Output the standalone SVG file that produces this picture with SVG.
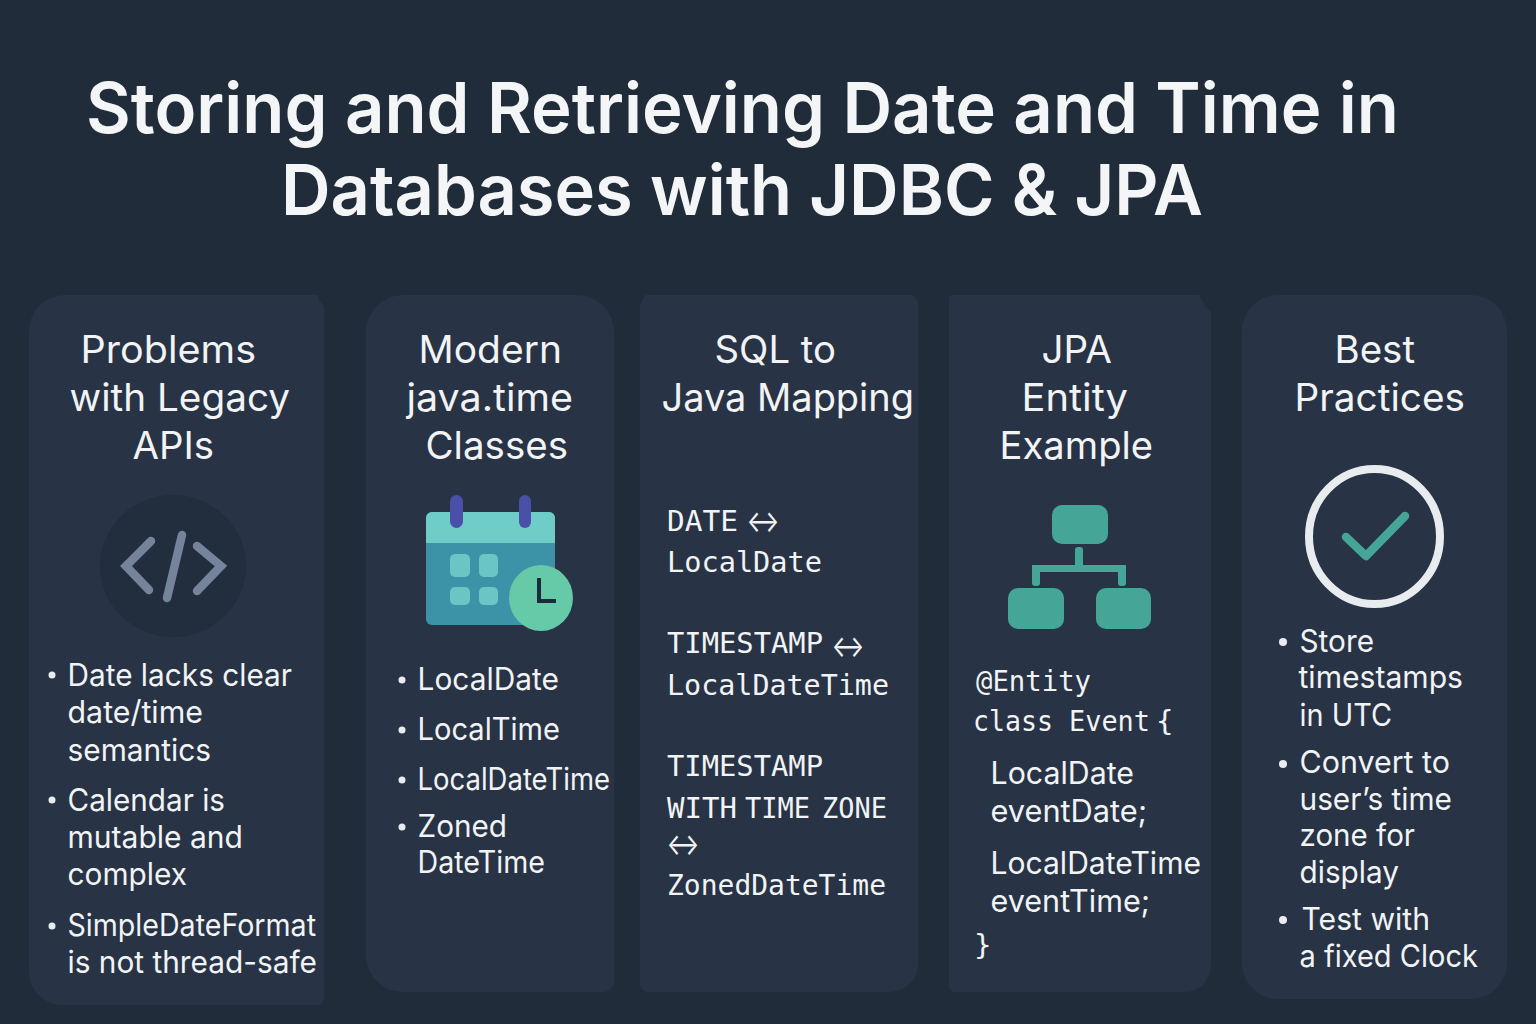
<svg xmlns="http://www.w3.org/2000/svg" width="1536" height="1024" viewBox="0 0 1536 1024">
<style>
text{font-family:Inter,"Liberation Sans",sans-serif;fill:#f1f3f5}
.t{font-size:70px;font-weight:600;fill:#f4f5f7}
.h{font-size:38px;font-weight:400;fill:#f1f3f5}
.b{font-size:31px}
.m{font-family:"DejaVu Sans Mono","Liberation Mono",monospace;font-size:29px}
.a{font-size:31px}
.card{fill:#283345}
.teal{fill:#45a698}
.d{fill:#e8ecef}
</style>
<rect width="1536" height="1024" fill="#212c3b"/>
<g id="title">
<text class="t" x="86" y="132.500" textLength="1313" lengthAdjust="spacingAndGlyphs">Storing and Retrieving Date and Time in</text>
<text class="t" x="281" y="214.500" textLength="922" lengthAdjust="spacingAndGlyphs">Databases with JDBC &amp; JPA</text>
</g>
<g id="card-legacy">
<path class="card" d="M65 295H318L320 302L324 306V998L321 1005H62A33 33 0 0 1 29 972V331A36 36 0 0 1 65 295Z"/>
<text class="h" x="80.500" y="362.500" textLength="175.500" lengthAdjust="spacingAndGlyphs">Problems</text>
<text class="h" x="69.500" y="410.500" textLength="220.500" lengthAdjust="spacingAndGlyphs">with Legacy</text>
<text class="h" x="132.500" y="458.500" textLength="81.500" lengthAdjust="spacingAndGlyphs">APIs</text>
<ellipse cx="173" cy="566" rx="73" ry="71" fill="#222d3d"/>
<g fill="none" stroke="#75849a" stroke-width="8.500" stroke-linecap="round" stroke-linejoin="miter">
<path d="M151 541L126 566L149 590"/><path d="M197 546L221 566L197 591"/><path d="M182 535L167 598"/>
</g>
<circle class="d" cx="52" cy="675" r="3.500"/>
<text class="b" x="67.500" y="686" textLength="224.500" lengthAdjust="spacingAndGlyphs">Date lacks clear</text>
<text class="b" x="67.500" y="723" textLength="135.500" lengthAdjust="spacingAndGlyphs">date/time</text>
<text class="b" x="67.500" y="761" textLength="143.500" lengthAdjust="spacingAndGlyphs">semantics</text>
<circle class="d" cx="52" cy="800" r="3.500"/>
<text class="b" x="67.500" y="811" textLength="157.500" lengthAdjust="spacingAndGlyphs">Calendar is</text>
<text class="b" x="67.500" y="848" textLength="175.500" lengthAdjust="spacingAndGlyphs">mutable and</text>
<text class="b" x="67.500" y="885" textLength="119.500" lengthAdjust="spacingAndGlyphs">complex</text>
<circle class="d" cx="52" cy="926" r="3.500"/>
<text class="b" x="67.500" y="936" textLength="248.500" lengthAdjust="spacingAndGlyphs">SimpleDateFormat</text>
<text class="b" x="67.500" y="973" textLength="249.500" lengthAdjust="spacingAndGlyphs">is not thread-safe</text>
</g>
<g id="card-modern">
<path class="card" d="M403 295H577A37 37 0 0 1 614 332V982A10 10 0 0 1 604 992H403A37 37 0 0 1 366 955V332A37 37 0 0 1 403 295Z"/>
<text class="h" x="418.500" y="362.500" textLength="143.500" lengthAdjust="spacingAndGlyphs">Modern</text>
<text class="h" x="406.500" y="410.500" textLength="166.500" lengthAdjust="spacingAndGlyphs">java.time</text>
<text class="h" x="425.500" y="458.500" textLength="142.500" lengthAdjust="spacingAndGlyphs">Classes</text>
<rect x="426" y="512" width="129" height="113" rx="6" fill="#3c93a8"/>
<path d="M426 543V518a6 6 0 0 1 6-6H549a6 6 0 0 1 6 6V543Z" fill="#6fcdc8"/>
<rect x="450" y="495" width="13" height="33" rx="6.500" fill="#4a4fa8"/>
<rect x="519" y="495" width="12" height="33" rx="6" fill="#4a4fa8"/>
<g fill="#69c6c4"><rect x="450" y="554" width="20" height="23" rx="5"/><rect x="479" y="554" width="19" height="23" rx="5"/><rect x="450" y="587" width="20" height="18" rx="5"/><rect x="479" y="587" width="19" height="18" rx="5"/></g>
<ellipse cx="541" cy="598" rx="32" ry="33" fill="#66c9a8"/>
<path d="M539 578V601H556" fill="none" stroke="#1c2b3a" stroke-width="4"/>
<circle class="d" cx="402" cy="680" r="3.500"/>
<text class="b" x="417.500" y="690" textLength="141.500" lengthAdjust="spacingAndGlyphs">LocalDate</text>
<circle class="d" cx="402" cy="730" r="3.500"/>
<text class="b" x="417.500" y="740" textLength="142.500" lengthAdjust="spacingAndGlyphs">LocalTime</text>
<circle class="d" cx="402" cy="780" r="3.500"/>
<text class="b" x="417.500" y="790" textLength="192.500" lengthAdjust="spacingAndGlyphs">LocalDateTime</text>
<circle class="d" cx="402" cy="827" r="3.500"/>
<text class="b" x="417.500" y="836.500" textLength="89.500" lengthAdjust="spacingAndGlyphs">Zoned</text>
<text class="b" x="417.500" y="873" textLength="127.500" lengthAdjust="spacingAndGlyphs">DateTime</text>
</g>
<g id="card-mapping">
<path class="card" d="M646 295H913L918 302V964A28 28 0 0 1 890 992H648A8 8 0 0 1 640 984V306L642 301Z"/>
<text class="h" x="714.500" y="362.500" textLength="121.500" lengthAdjust="spacingAndGlyphs">SQL to</text>
<text class="h" x="661.500" y="410.500" textLength="252.500" lengthAdjust="spacingAndGlyphs">Java Mapping</text>
<text class="m" x="667" y="530.500" textLength="71" lengthAdjust="spacingAndGlyphs">DATE</text>
<text class="a" x="746.500" y="532" textLength="33" lengthAdjust="spacingAndGlyphs">↔</text>
<text class="m" x="667" y="572" textLength="155" lengthAdjust="spacingAndGlyphs">LocalDate</text>
<text class="m" x="667" y="653" textLength="156" lengthAdjust="spacingAndGlyphs">TIMESTAMP</text>
<text class="a" x="831.500" y="657" textLength="33" lengthAdjust="spacingAndGlyphs">↔</text>
<text class="m" x="667" y="694.500" textLength="222" lengthAdjust="spacingAndGlyphs">LocalDateTime</text>
<text class="m" x="667" y="776" textLength="156" lengthAdjust="spacingAndGlyphs">TIMESTAMP</text>
<text class="m" x="667" y="818"><tspan textLength="70" lengthAdjust="spacingAndGlyphs">WITH</tspan> <tspan x="745" textLength="65" lengthAdjust="spacingAndGlyphs">TIME</tspan> <tspan x="822" textLength="65" lengthAdjust="spacingAndGlyphs">ZONE</tspan></text>
<text class="a" x="666.500" y="855" textLength="33" lengthAdjust="spacingAndGlyphs">↔</text>
<text class="m" x="667" y="895" textLength="219" lengthAdjust="spacingAndGlyphs">ZonedDateTime</text>
</g>
<g id="card-entity">
<path class="card" d="M953 295H1199L1205 306L1211 312V966A26 26 0 0 1 1185 992H955A6 6 0 0 1 949 986V299A4 4 0 0 1 953 295Z"/>
<text class="h" x="1041.500" y="362.500" textLength="70.500" lengthAdjust="spacingAndGlyphs">JPA</text>
<text class="h" x="1021.500" y="410.500" textLength="106.500" lengthAdjust="spacingAndGlyphs">Entity</text>
<text class="h" x="999.500" y="458.500" textLength="153.500" lengthAdjust="spacingAndGlyphs">Example</text>
<g class="teal">
<rect x="1052" y="505" width="56" height="39" rx="10"/>
<rect x="1008" y="588" width="56" height="41" rx="10"/>
<rect x="1096" y="588" width="55" height="41" rx="10"/>
<path d="M1075 550a3 3 0 0 1 3-3H1080a3 3 0 0 1 3 3V565H1126V583a3 3 0 0 1-3 3H1121a3 3 0 0 1-3-3V572H1040V583a3 3 0 0 1-3 3H1035a3 3 0 0 1-3-3V565H1075Z"/>
</g>
<text class="m" x="976" y="691" textLength="115" lengthAdjust="spacingAndGlyphs">@Entity</text>
<text class="m" x="973" y="731"><tspan textLength="80" lengthAdjust="spacingAndGlyphs">class</tspan> <tspan x="1069" textLength="81" lengthAdjust="spacingAndGlyphs">Event</tspan> <tspan x="1156">{</tspan></text>
<text class="b" x="990.500" y="784" textLength="143.500" lengthAdjust="spacingAndGlyphs">LocalDate</text>
<text class="b" x="990.500" y="822" textLength="156.500" lengthAdjust="spacingAndGlyphs">eventDate;</text>
<text class="b" x="990.500" y="874" textLength="210.500" lengthAdjust="spacingAndGlyphs">LocalDateTime</text>
<text class="b" x="990.500" y="912" textLength="159.500" lengthAdjust="spacingAndGlyphs">eventTime;</text>
<text class="m" x="974" y="955">}</text>
</g>
<g id="card-practices">
<rect class="card" x="1242" y="295" width="265" height="704" rx="36"/>
<text class="h" x="1334.500" y="362.500" textLength="80.500" lengthAdjust="spacingAndGlyphs">Best</text>
<text class="h" x="1294.500" y="410.500" textLength="170.500" lengthAdjust="spacingAndGlyphs">Practices</text>
<ellipse cx="1374.500" cy="536.500" rx="65.500" ry="67.500" fill="none" stroke="#e9ecef" stroke-width="8"/>
<path d="M1346 537L1366 556L1405 516" fill="none" stroke="#45a698" stroke-width="8.500" stroke-linecap="round" stroke-linejoin="round"/>
<circle class="d" cx="1283" cy="642" r="4"/>
<text class="b" x="1299.500" y="652" textLength="74.500" lengthAdjust="spacingAndGlyphs">Store</text>
<text class="b" x="1298.500" y="688" textLength="164.500" lengthAdjust="spacingAndGlyphs">timestamps</text>
<text class="b" x="1299.500" y="726" textLength="92.500" lengthAdjust="spacingAndGlyphs">in UTC</text>
<circle class="d" cx="1283" cy="764" r="4"/>
<text class="b" x="1299.500" y="773" textLength="150.500" lengthAdjust="spacingAndGlyphs">Convert to</text>
<text class="b" x="1299.500" y="810" textLength="152.500" lengthAdjust="spacingAndGlyphs">user’s time</text>
<text class="b" x="1299.500" y="846" textLength="115.500" lengthAdjust="spacingAndGlyphs">zone for</text>
<text class="b" x="1299.500" y="883" textLength="99.500" lengthAdjust="spacingAndGlyphs">display</text>
<circle class="d" cx="1283" cy="920" r="4"/>
<text class="b" x="1301.500" y="930" textLength="128.500" lengthAdjust="spacingAndGlyphs">Test with</text>
<text class="b" x="1299.500" y="967" textLength="178.500" lengthAdjust="spacingAndGlyphs">a fixed Clock</text>
</g>
<g id="connectors"/>
</svg>
